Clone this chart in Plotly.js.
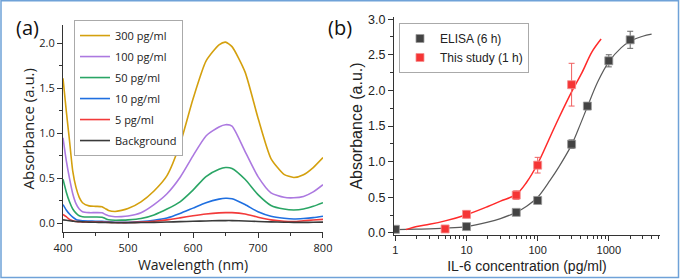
<!DOCTYPE html>
<html><head><meta charset="utf-8">
<script src="https://cdn.plot.ly/plotly-3.0.1.min.js"></script>
<style>html,body{margin:0;padding:0;background:#fff}</style>
</head><body><div id="chart" style="width:681px;height:279px"></div>
<script>
// ---------- Panel (a): absorbance spectra ----------
const wavelength = [400,405,410,415,420,425,430,440,450,460,465,470,480,490,500,520,540,560,580,600,620,640,650,660,680,700,720,740,755,770,785,800];
const abs300 = [1.61,1.25,0.92,0.58,0.40,0.29,0.23,0.195,0.19,0.185,0.165,0.145,0.133,0.145,0.165,0.24,0.36,0.53,0.88,1.38,1.80,1.98,2.01,1.96,1.68,1.17,0.72,0.545,0.51,0.54,0.62,0.73];
const abs100 = [0.95,0.70,0.50,0.33,0.22,0.16,0.13,0.12,0.12,0.118,0.10,0.085,0.075,0.076,0.083,0.12,0.21,0.33,0.51,0.75,0.97,1.07,1.095,1.08,0.80,0.52,0.34,0.29,0.285,0.30,0.35,0.43];
const abs50  = [0.49,0.35,0.24,0.16,0.115,0.085,0.075,0.072,0.072,0.07,0.055,0.042,0.036,0.037,0.04,0.055,0.095,0.16,0.24,0.37,0.52,0.60,0.62,0.61,0.49,0.32,0.20,0.16,0.15,0.16,0.19,0.23];
const abs10  = [0.21,0.15,0.105,0.07,0.045,0.035,0.03,0.027,0.025,0.025,0.022,0.018,0.013,0.012,0.012,0.02,0.035,0.06,0.11,0.17,0.23,0.27,0.28,0.275,0.21,0.13,0.08,0.058,0.05,0.055,0.065,0.08];
const abs5   = [0.10,0.075,0.045,0.03,0.022,0.02,0.018,0.017,0.016,0.016,0.014,0.012,0.01,0.01,0.01,0.015,0.025,0.04,0.062,0.085,0.105,0.118,0.12,0.12,0.105,0.07,0.04,0.025,0.022,0.03,0.038,0.045];
const absBg  = [0.04,0.035,0.03,0.026,0.022,0.02,0.018,0.015,0.013,0.012,0.011,0.01,0.008,0.008,0.008,0.01,0.012,0.016,0.02,0.024,0.028,0.031,0.032,0.032,0.028,0.022,0.018,0.014,0.012,0.012,0.013,0.015];
const spectraNames = ['300 pg/ml','100 pg/ml','50 pg/ml','10 pg/ml','5 pg/ml','Background'];
const spectraValues = [abs300, abs100, abs50, abs10, abs5, absBg];
const wlTicks = [400,500,600,700,800];

// ---------- Panel (b): calibration ----------
const elisaConc = [1,10,50,100,300,500,1000,2000];
const elisaAbs  = [0.05,0.088,0.288,0.455,1.245,1.78,2.415,2.71];
const elisaErr  = [0.02,0.02,0.025,0.03,0.06,0.05,0.085,0.12];
const studyConc = [5,10,50,100,300];
const studyAbs  = [0.055,0.26,0.53,0.95,2.08];
const studyErr  = [0.04,0.05,0.06,0.11,0.30];
const elisaFitConc = [1,2,5,10,20,30,50,70,100,150,200,300,400,500,700,1000,1500,2000,3000,4000];
const elisaFitAbs  = [0.045,0.052,0.066,0.088,0.15,0.2,0.29,0.375,0.5,0.74,0.93,1.235,1.53,1.77,2.12,2.4,2.6,2.69,2.76,2.79];
const studyFitConc = [1.4,2,3,5,10,20,30,50,70,100,150,200,300,420,580,780];
const studyFitAbs  = [0.045,0.09,0.12,0.168,0.255,0.37,0.445,0.54,0.71,0.97,1.35,1.62,1.98,2.25,2.54,2.72];
const concTicks = [1,10,100,1000];
const concMinorTicks = [2,3,4,5,6,7,8,9,20,30,40,50,60,70,80,90,200,300,400,500,600,700,800,900,2000,3000,4000,5000];

const colorsA = ['#d4a00e','#ac79e0','#2aa565','#1f6fe0','#f23a3a','#3a3a3a'];
const fontA = 'Open Sans, Noto Sans, sans-serif';
const fontB = 'Liberation Sans, Arial, sans-serif';

const traces = [];
spectraNames.forEach((n, i) => {
  traces.push({
    type: 'scatter', mode: 'lines', x: wavelength, y: spectraValues[i], name: n,
    line: {color: colorsA[i], width: 1.6, shape: 'spline', smoothing: 0.6},
    xaxis: 'x', yaxis: 'y', legend: 'legend', legendgroup: 'g' + i
  });
});
traces.push({type:'scatter', mode:'lines', x: elisaFitConc, y: elisaFitAbs, line:{color:'#5a5a5a', width:1.2, shape:'spline'}, showlegend:false, xaxis:'x2', yaxis:'y2', hoverinfo:'skip'});
traces.push({type:'scatter', mode:'lines', x: studyFitConc, y: studyFitAbs, line:{color:'#ff2a2a', width:1.5, shape:'spline'}, showlegend:false, xaxis:'x2', yaxis:'y2', hoverinfo:'skip'});
traces.push({type:'scatter', mode:'markers', x: elisaConc, y: elisaAbs, name:'ELISA (6 h)',
  error_y:{type:'data', array: elisaErr, visible:true, color:'#666', thickness:1, width:3},
  marker:{symbol:'square', size:8, color:'#434343', line:{color:'#9a9a9a', width:0.8}},
  xaxis:'x2', yaxis:'y2', legend:'legend2'});
traces.push({type:'scatter', mode:'markers', x: studyConc, y: studyAbs, name:'This study (1 h)',
  error_y:{type:'data', array: studyErr, visible:true, color:'#f06060', thickness:1, width:3},
  marker:{symbol:'square', size:8, color:'#f53535', line:{color:'#f59090', width:0.8}},
  xaxis:'x2', yaxis:'y2', legend:'legend2'});

const axA = {linecolor:'#333', linewidth:1, showline:true, zeroline:false, showgrid:false, ticks:'outside', ticklen:5, tickcolor:'#333', mirror:false};

const layout = {
  width: 681, height: 279,
  margin: {l:63, r:21, t:17, b:44},
  paper_bgcolor:'#fff', plot_bgcolor:'#fff',
  showlegend: true,
  xaxis: Object.assign({}, axA, {domain:[0, 0.4355], range:[400,800], tickvals: wlTicks, anchor:'y',
    tickfont:{family:fontA, size:11, color:'#222'},
    minor:{dtick:50, ticklen:3, ticks:'outside', tickcolor:'#333'},
    title:{text:'Wavelength (nm)', font:{family:fontA, size:14, color:'#222'}, standoff:4}}),
  yaxis: Object.assign({}, axA, {domain:[0.0115, 0.9633], range:[-0.1,2.2], dtick:0.5, tick0:0, tickformat:'.1f', anchor:'x',
    tickfont:{family:fontA, size:11, color:'#222'},
    minor:{dtick:0.25, ticklen:3, ticks:'outside', tickcolor:'#333'},
    title:{text:'Absorbance (a.u.)', font:{family:fontA, size:15, color:'#222'}, standoff:1}}),
  xaxis2: Object.assign({}, axA, {domain:[0.5544, 1], type:'log', range:[-0.02, 3.72], tickvals: concTicks, ticktext: concTicks.map(String), anchor:'y2',
    tickfont:{family:fontB, size:11, color:'#222'},
    minor:{tickmode:'array', tickvals: concMinorTicks, ticklen:3, ticks:'outside', tickcolor:'#333'},
    title:{text:'IL-6 concentration (pg/ml)', font:{family:fontB, size:14, color:'#222'}, standoff:5}}),
  yaxis2: Object.assign({}, axA, {domain:[0, 1], range:[-0.03, 3.03], dtick:0.5, tick0:0, tickformat:'.1f', anchor:'x2',
    tickfont:{family:fontB, size:12.5, color:'#222'},
    minor:{dtick:0.25, ticklen:3, ticks:'outside', tickcolor:'#333'},
    title:{text:'Absorbance (a.u.)', font:{family:fontB, size:16, color:'#222'}, standoff:1}}),
  legend: {x:0.0184, y:0.986, xanchor:'left', yanchor:'top', bgcolor:'#fff', bordercolor:'#aaa', borderwidth:1,
    font:{family:fontA, size:11, color:'#222'}, tracegroupgap:2, traceorder:'grouped'},
  legend2: {x:0.5628, y:0.9725, xanchor:'left', yanchor:'top', bgcolor:'#fff', bordercolor:'#aaa', borderwidth:1,
    font:{family:fontB, size:12, color:'#222'}},
  annotations: [
    {text:'(a)', xref:'paper', yref:'paper', x:-0.0603, y:0.954, xanchor:'center', yanchor:'middle', showarrow:false, font:{family:fontA, size:20, color:'#111'}},
    {text:'(b)', xref:'paper', yref:'paper', x:0.464, y:0.954, xanchor:'center', yanchor:'middle', showarrow:false, font:{family:fontA, size:20, color:'#111'}}
  ],
  shapes: [
    {type:'rect', xref:'paper', yref:'paper', x0:(1-63)/597, x1:(678.5-63)/597, y0:(235-277.5)/218, y1:(235-0.8)/218, line:{color:'#6fa2d8', width:1.5}, fillcolor:'rgba(0,0,0,0)', layer:'above'}
  ]
};

Plotly.newPlot('chart', traces, layout, {displayModeBar:false, staticPlot:true});
</script></body></html>
